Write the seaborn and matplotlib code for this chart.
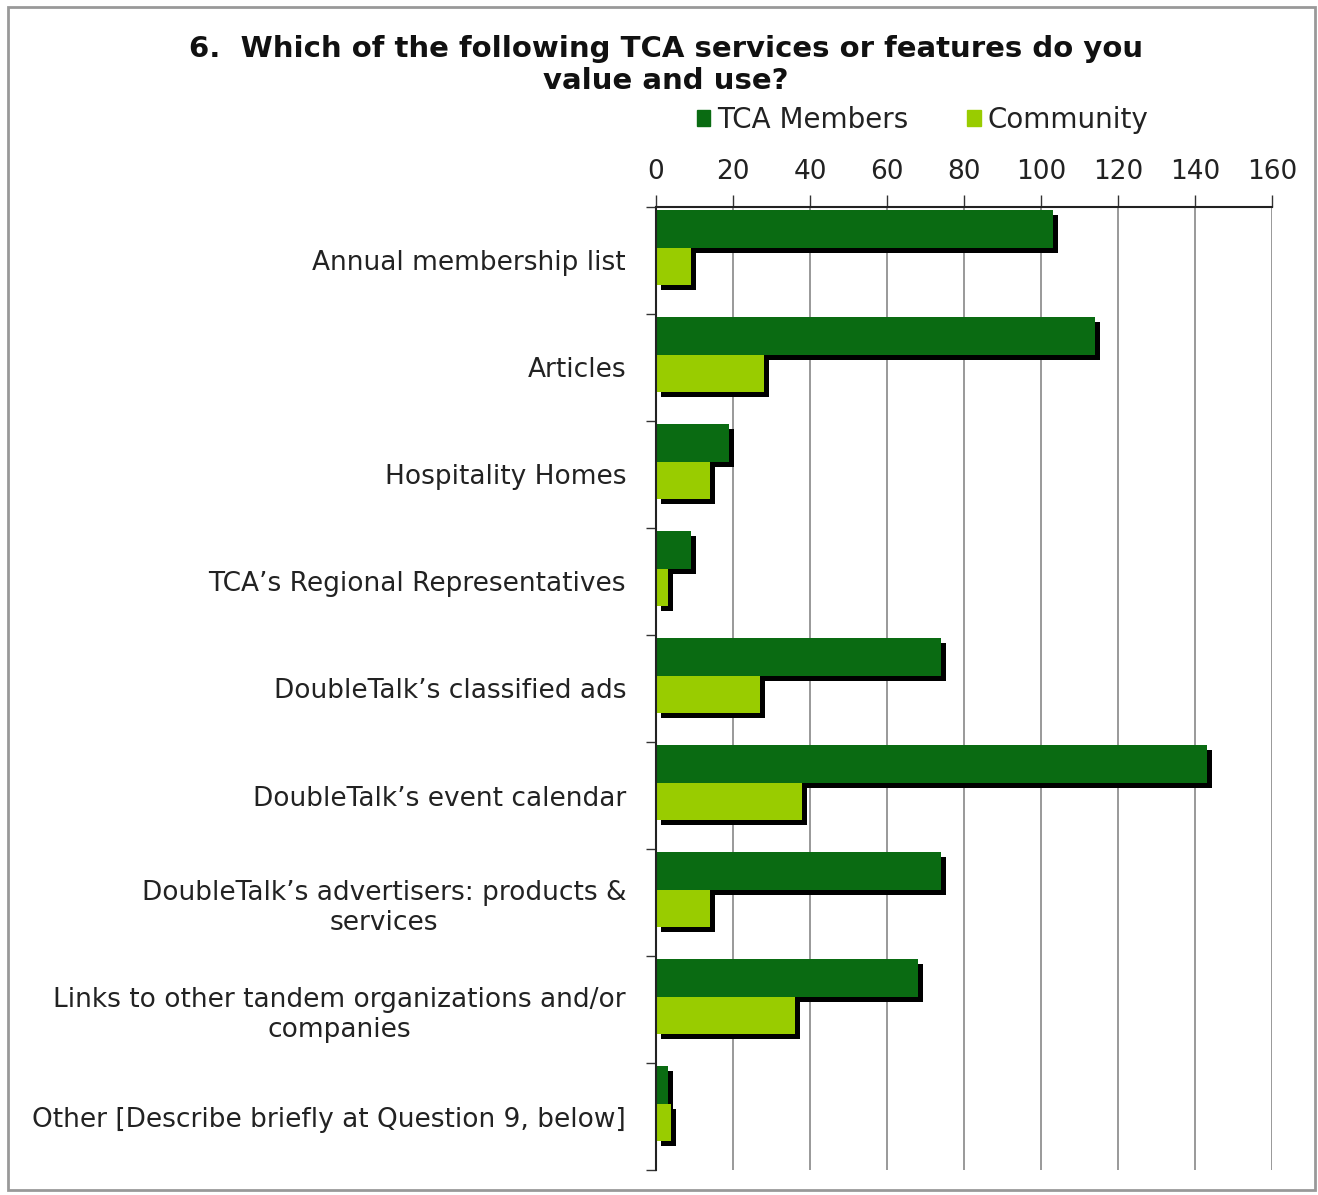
import matplotlib
matplotlib.use("Agg")
import matplotlib.pyplot as plt
import matplotlib.patheffects as pe
from matplotlib.patches import Rectangle
import pandas as pd
import seaborn as sns

categories = [
    "Annual membership list",
    "Articles",
    "Hospitality Homes",
    "TCA\u2019s Regional Representatives",
    "DoubleTalk\u2019s classified ads",
    "DoubleTalk\u2019s event calendar",
    "DoubleTalk\u2019s advertisers: products &\nservices",
    "Links to other tandem organizations and/or\ncompanies",
    "Other [Describe briefly at Question 9, below]",
]
tca_members = [103, 114, 19, 9, 74, 143, 74, 68, 3]
community = [9, 28, 14, 3, 27, 38, 14, 36, 4]
series = ["TCA Members", "Community"]
colors = ["#0A6B12", "#99CC00"]
x_ticks = [0, 20, 40, 60, 80, 100, 120, 140, 160]

df = pd.DataFrame({"category": categories, series[0]: tca_members, series[1]: community})
long_df = df.melt(id_vars="category", var_name="series", value_name="count")

sns.set_style("white")
plt.rcParams["font.family"] = ["DejaVu Sans"]

fig = plt.figure(figsize=(13.18, 11.95), dpi=100)
ax = fig.add_axes([0.4977, 0.0209, 0.4674, 0.8059])

sns.barplot(
    data=long_df, y="category", x="count", hue="series", hue_order=series,
    palette=colors, orient="h", width=0.7, dodge=True, ax=ax,
    saturation=1, legend=False, linewidth=0,
)
# Excel-style drop shadow on each bar
shadow = [pe.SimplePatchShadow(offset=(3.6, -3.6), shadow_rgbFace="black", alpha=1.0), pe.Normal()]
for patch in ax.patches:
    patch.set_path_effects(shadow)

n = len(categories)
ax.set_ylim(n - 0.38, -0.38)
ax.set_xlim(0, 160)
ax.set_xticks(x_ticks)
ax.xaxis.tick_top()
ax.tick_params(axis="x", which="major", top=True, length=9, width=1, color="#333333",
               labelsize=19, labelcolor="#222222", pad=7)
ax.set_yticks([i + 0.12 for i in range(n)])
ax.set_yticklabels(categories)
for lbl in ax.get_yticklabels():
    lbl.set_multialignment("center")
ax.tick_params(axis="y", which="major", left=False, labelsize=19, labelcolor="#222222", pad=18)
ax.set_yticks([i - 0.38 for i in range(n + 1)], minor=True)
ax.tick_params(axis="y", which="minor", left=True, length=7, width=1, color="#333333")
ax.grid(axis="x", color="#888888", linewidth=1.2)
ax.set_axisbelow(True)
for side in ["right", "bottom"]:
    ax.spines[side].set_visible(False)
for side in ["top", "left"]:
    ax.spines[side].set_color("#222222")
    ax.spines[side].set_linewidth(1.5)
ax.set_xlabel("")
ax.set_ylabel("")

fig.text(0.505, 0.9456, "6.  Which of the following TCA services or features do you\nvalue and use?",
         ha="center", va="center", fontsize=21, fontweight="bold", color="#111111", linespacing=1.15)

handles = [Rectangle((0, 0), 1, 1, color=c) for c in colors]
fig.legend(handles, series, loc="center", bbox_to_anchor=(0.7, 0.9), ncol=2, frameon=False,
           fontsize=20, handlelength=0.5, handleheight=0.5, handletextpad=0.25, columnspacing=2.1,
           labelcolor="#222222")

fig.patches.append(Rectangle((0.006, 0.004), 0.992, 0.99, transform=fig.transFigure, fill=False,
                             edgecolor="#999999", linewidth=2))

fig.savefig("out.png", dpi=100)
